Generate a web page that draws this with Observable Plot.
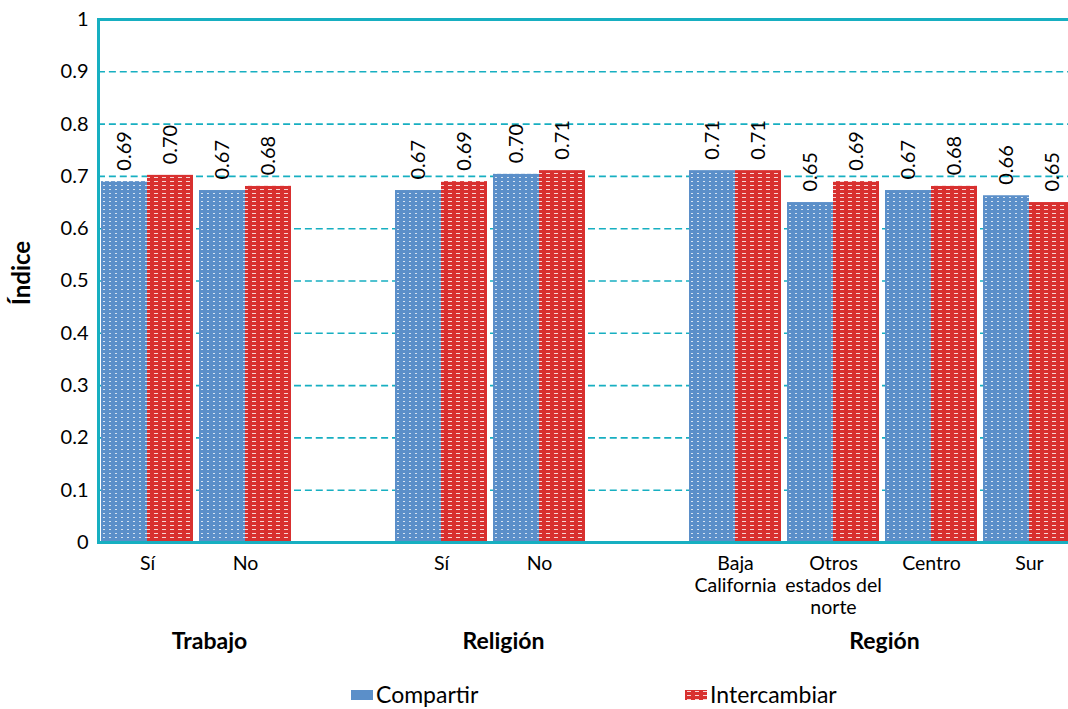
<!DOCTYPE html>
<html>
<head>
<meta charset="utf-8">
<script src="https://cdn.jsdelivr.net/npm/d3@7"></script>
<script src="https://cdn.jsdelivr.net/npm/@observablehq/plot@0.6"></script>
<style>
  html, body { margin: 0; padding: 0; overflow: hidden; background: #fff; width: 1068px; }
  body { font-family: Lato, "Open Sans", sans-serif; height: 709px; }
  #wrap { width: 1068px; height: 709px; overflow: hidden; position: relative; }
  #chart { width: 1068px; height: 680px; overflow: hidden; }
  #chart svg { display: block; }
  #legend { position: relative; height: 29px; font-size: 23px; color: #000; }
  .item { position: absolute; top: 0; line-height: 29px; display: flex; align-items: center; }
  .item svg { margin-right: 3px; }
</style>
</head>
<body>
<svg width="0" height="0" style="position:absolute">
  <defs>
    <pattern id="pBlue" width="6" height="4" patternUnits="userSpaceOnUse">
      <rect width="6" height="4" fill="#5b8fc9"></rect>
      <rect x="1" y="1" width="2" height="1" fill="#ffffff" fill-opacity="0.75"></rect>
    </pattern>
    <pattern id="pRed" width="8" height="4" patternUnits="userSpaceOnUse">
      <rect width="8" height="4" fill="#d8302f"></rect>
      <rect x="2" y="1" width="4" height="1" fill="#ffffff" fill-opacity="0.8"></rect>
    </pattern>
  </defs>
</svg>
<div id="wrap">
<div id="chart"></div>
<div id="legend">
  <div class="item" style="left:351px"><svg width="22" height="10"><rect width="22" height="10" fill="#5b8fc9"></rect></svg><span>Compartir</span></div>
  <div class="item" style="left:685px"><svg width="22" height="10"><rect width="22" height="10" fill="url(#pRed)"></rect></svg><span>Intercambiar</span></div>
</div>
</div>
<script>
// ---- data ----
const slots = ["trabajo-si", "trabajo-no", "gap1", "religion-si", "religion-no", "gap2", "baja", "otros", "centro", "sur"];
const slotLabels = ["Sí", "No", "", "Sí", "No", "", "Baja\nCalifornia", "Otros\nestados del\nnorte", "Centro", "Sur"];
const compartir = [0.690, 0.673, null, 0.673, 0.704, null, 0.711, 0.650, 0.673, 0.663];
const intercambiar = [0.702, 0.681, null, 0.690, 0.711, null, 0.711, 0.690, 0.681, 0.650];
const series = ["Compartir", "Intercambiar"];
const groupTitles = ["Trabajo", "Religión", "Región"];
const groupSlots = ["trabajo-si", "religion-si", "otros"];
const yTicks = [0, 0.1, 0.2, 0.3, 0.4, 0.5, 0.6, 0.7, 0.8, 0.9, 1];
const gridTicks = [0.1, 0.2, 0.3, 0.4, 0.5, 0.6, 0.7, 0.8, 0.9];
const yTitle = "Índice";

// one row per slot and series; the gap slots keep a row with no value so their facet exists
const rows = [];
slots.forEach((s, i) => {
  rows.push({slot: s, series: "Compartir", value: compartir[i]});
  rows.push({slot: s, series: "Intercambiar", value: intercambiar[i]});
});
const groups = groupTitles.map((t, i) => ({title: t, slot: groupSlots[i]}));

const teal = "#17afc1";

const plot = Plot.plot({
  width: 1068,
  height: 680,
  marginLeft: 98,
  marginRight: -10,
  marginTop: 19,
  marginBottom: 138,
  style: {fontFamily: "Lato, 'Open Sans', sans-serif", fontSize: "19px", color: "#000", background: "transparent", overflow: "hidden"},
  fx: {domain: slots, paddingInner: 0, paddingOuter: 0, label: null},
  x: {domain: series, paddingInner: 0, paddingOuter: 0.0426, axis: null},
  y: {domain: [0, 1], label: null},
  marks: [
    Plot.ruleY(gridTicks, {stroke: teal, strokeWidth: 1.6, strokeDasharray: "7,3.89"}),
    Plot.barY(rows.filter(d => d.series === "Compartir"), {fx: "slot", x: "series", y: "value", fill: "url(#pBlue)", inset: 0}),
    Plot.barY(rows.filter(d => d.series === "Intercambiar"), {fx: "slot", x: "series", y: "value", fill: "url(#pRed)", inset: 0}),
    Plot.ruleY([0, 1], {stroke: teal, strokeWidth: 3}),
    Plot.frame({anchor: "left", facetAnchor: "left", stroke: teal, strokeWidth: 3}),
    Plot.text(rows, {fx: "slot", x: "series", y: "value", text: d => d.value == null ? null : d.value.toFixed(2), rotate: -90, textAnchor: "start", lineAnchor: "middle", dy: -11, fontSize: 20, fill: "#000"}),
    Plot.axisY({ticks: yTicks, tickSize: 0, tickPadding: 10, fontSize: 20, tickFormat: d => (d === 0 || d === 1) ? String(d) : d.toFixed(1), label: null}),
    Plot.text([yTitle], {text: d => d, facetAnchor: "left", frameAnchor: "left", textAnchor: "middle", rotate: -90, dx: -76, dy: -8, fontSize: 24, fontWeight: "bold"}),
    Plot.axisFx({anchor: "bottom", tickSize: 0, tickPadding: 12, fontSize: 19.5, lineHeight: 1.12, tickFormat: k => slotLabels[slots.indexOf(k)], label: null}),
    Plot.text(groups.filter(d => d.title !== "Región"), {fx: "slot", text: "title", frameAnchor: "bottom-right", textAnchor: "middle", dx: 13, dy: 99, lineAnchor: "middle", fontSize: 23, fontWeight: "bold"}),
    Plot.text(groups.filter(d => d.title === "Región"), {fx: "slot", text: "title", frameAnchor: "bottom-right", textAnchor: "middle", dx: 2, dy: 99, lineAnchor: "middle", fontSize: 23, fontWeight: "bold"})
  ]
});
document.getElementById("chart").appendChild(plot);
</script>
</body>
</html>
